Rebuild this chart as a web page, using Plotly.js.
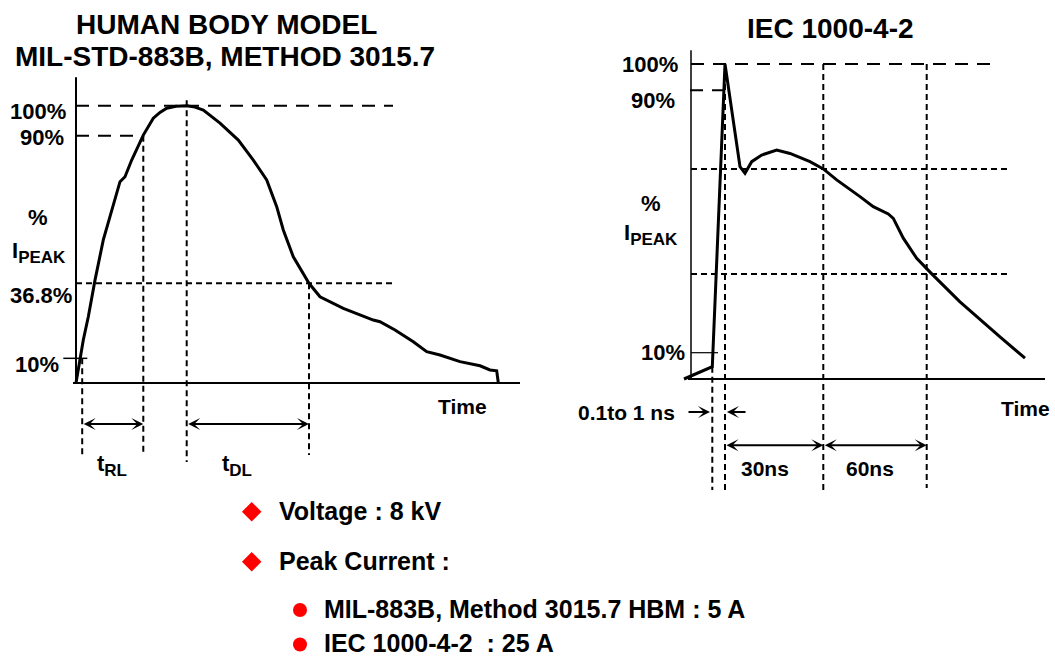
<!DOCTYPE html>
<html><head><meta charset="utf-8">
<script src="https://cdn.plot.ly/plotly-3.0.1.min.js"></script>
<style>html,body{margin:0;padding:0;background:#fff;}#chart{width:1055px;height:658px;}</style>
</head><body><div id="chart"></div>
<script>
// ================= DATA =================
// Left: Human Body Model waveform (time in arbitrary units, current in % of peak)
const hbmTime    = [0, 7.3, 12.3, 19, 27.3, 34, 39, 44, 49, 55.7, 67.3, 77.3, 84, 90.7, 100, 110.7, 119, 127.3, 144, 162.3, 177.3, 190.7, 200.7, 207.3, 217.3, 233, 244, 267.3, 297.3, 304, 319, 337.3, 350.7, 364, 384, 404, 414, 420.7, 422.3];
const hbmCurrent = [0, 15.5, 23.9, 37.1, 51.6, 60, 66.6, 72.6, 74.4, 80.4, 89.4, 95.5, 97.6, 99.1, 99.8, 100, 99.5, 98.4, 93.7, 87.6, 80.4, 73.2, 63.6, 55.2, 45.5, 35.95, 31.1, 26.9, 22.7, 22.1, 19.1, 14.9, 11.3, 10.1, 7.7, 6.2, 4.7, 4.4, 0.1];
const hbmLevels     = [100, 89.2, 35.95, 8.9];            // drawn positions of the reference levels
const hbmLevelText  = ['100%', '90%', '36.8%', '10%'];
const hbmMarkTimes  = [6.2, 67.3, 110.7, 233];            // 10% point, 90% point, peak, 36.8% decay point
const hbmTimeEnd    = 444;

// Right: IEC 1000-4-2 waveform
const iecTime    = [-7, 21.3, 34, 49, 54, 60.7, 70.7, 85.7, 99, 119, 132.3, 145.7, 169, 182.3, 197.3, 202.3, 212.3, 225.7, 241, 269, 309, 334];
const iecCurrent = [0, 3.9, 100, 67.4, 65.3, 69.0, 71.1, 72.7, 71.6, 69.0, 66.7, 63.2, 57.9, 54.7, 52.4, 51.0, 44.7, 38.3, 33.3, 24.5, 13.4, 6.6];
const iecLevels     = [100, 91.7, 66.7, 33.3, 8.35];
const iecLevelText  = ['100%', '90%', '', '', '10%'];
const iecMarkTimes  = [21.3, 34, 132.3, 235.7];           // rise start, peak, 30 ns, 60 ns
const iecTimeEnd    = 354;

const titlesLeft  = ['HUMAN BODY MODEL', 'MIL-STD-883B, METHOD 3015.7'];
const titleRight  = 'IEC 1000-4-2';
const bulletTexts = ['Voltage : 8 kV', 'Peak Current :', 'MIL-883B, Method 3015.7 HBM : 5 A', 'IEC 1000-4-2\u00A0\u00A0: 25 A'];
const bulletLevel = [0, 0, 1, 1];

// ================= LAYOUT HELPERS =================
const W = 1055, H = 658;
const FONT = 'Liberation Sans, Arial, Helvetica, sans-serif';
function frame(pxL, pxR, pxT, pxB, x0px, y0px, sx, sy) {
  return {
    xd: [pxL / W, pxR / W], xr: [(pxL - x0px) / sx, (pxR - x0px) / sx],
    yd: [1 - pxB / H, 1 - pxT / H], yr: [(y0px - pxB) / sy, (y0px - pxT) / sy]
  };
}
const fL = frame(0, 545, 70, 480, 76, 383, 1, 2.773);
const fR = frame(560, 1055, 40, 500, 691, 379, 1, 3.15);
const fB = {xd: [230 / W, 330 / W], xr: [230, 330], yd: [0, 1 - 490 / H], yr: [658, 490]};

const LONG = '13px,9px', SHORT = '6px,4px';
const traces = [];
function seg(xa, ya, x0, y0, x1, y1, dash, width) {
  traces.push({type: 'scatter', mode: 'lines', xaxis: xa, yaxis: ya, x: [x0, x1], y: [y0, y1],
    line: {color: '#000', width: width, dash: dash}, hoverinfo: 'skip', showlegend: false});
}

// ---------- Left chart ----------
seg('x', 'y', 0, fL.yr[1] - 2.6, 0, 0, 'solid', 2);            // y-axis line
seg('x', 'y', -3, 0, hbmTimeEnd, 0, 'solid', 2);                 // x-axis line
traces.push({type: 'scatter', mode: 'lines', xaxis: 'x', yaxis: 'y', x: hbmTime, y: hbmCurrent,
  line: {color: '#000', width: 3}, hoverinfo: 'skip', showlegend: false});
seg('x', 'y', 0, hbmLevels[0], 317, hbmLevels[0], LONG, 2);
seg('x', 'y', 0, hbmLevels[1], hbmMarkTimes[1], hbmLevels[1], LONG, 2);
seg('x', 'y', 0, hbmLevels[2], 319, hbmLevels[2], SHORT, 2);
seg('x', 'y', -12.7, hbmLevels[3], 11.3, hbmLevels[3], 'solid', 1.5);
seg('x', 'y', hbmMarkTimes[0], hbmLevels[3], hbmMarkTimes[0], -26, SHORT, 2);
seg('x', 'y', hbmMarkTimes[1], hbmLevels[1], hbmMarkTimes[1], -26, SHORT, 2);
seg('x', 'y', hbmMarkTimes[2], 102, hbmMarkTimes[2], -28.5, SHORT, 2);
seg('x', 'y', hbmMarkTimes[3], hbmLevels[2], hbmMarkTimes[3], -26, SHORT, 2);

// ---------- Right chart ----------
seg('x2', 'y2', 0, 104.4, 0, 0, 'solid', 1.5);
seg('x2', 'y2', -3, 0, iecTimeEnd, 0, 'solid', 2);
traces.push({type: 'scatter', mode: 'lines', xaxis: 'x2', yaxis: 'y2', x: iecTime, y: iecCurrent,
  line: {color: '#000', width: 3}, hoverinfo: 'skip', showlegend: false});
seg('x2', 'y2', 0, iecLevels[0], 307, iecLevels[0], LONG, 2);
seg('x2', 'y2', -1, iecLevels[1], 41, iecLevels[1], LONG, 2);
seg('x2', 'y2', 0, iecLevels[2], 316, iecLevels[2], SHORT, 2);
seg('x2', 'y2', 0, iecLevels[3], 316, iecLevels[3], SHORT, 2);
seg('x2', 'y2', 0, iecLevels[4], 27, iecLevels[4], 'solid', 1.2);
seg('x2', 'y2', iecMarkTimes[0], iecCurrent[1], iecMarkTimes[0], -35.2, SHORT, 2);
seg('x2', 'y2', iecMarkTimes[1], 100, iecMarkTimes[1], -35.2, SHORT, 2);
seg('x2', 'y2', iecMarkTimes[2], 100, iecMarkTimes[2], -35.2, SHORT, 2);
seg('x2', 'y2', iecMarkTimes[3], 100, iecMarkTimes[3], -34.6, SHORT, 2);

// ---------- Bullet markers ----------
const bulletY = [511.7, 561.7, 610, 644.5];
traces.push({type: 'scatter', mode: 'markers', xaxis: 'x3', yaxis: 'y3',
  x: bulletLevel.map(l => l ? 300 : 251.7), y: bulletY,
  marker: {color: '#ff0000', opacity: 1, size: bulletLevel.map(l => l ? 14 : 15), symbol: bulletLevel.map(l => l ? 'circle' : 'diamond'), line: {width: 0}},
  hoverinfo: 'skip', showlegend: false});

// ================= ANNOTATIONS =================
const ann = [];
function lab(text, x, y, xr, yr, size, xanchor) {
  ann.push({text: '<b>' + text + '</b>', x: x, y: y, xref: xr, yref: yr, showarrow: false,
    xanchor: xanchor || 'center', yanchor: 'middle', font: {family: FONT, size: size, color: '#000'}});
}
function arrow(xr, yr, xTail, xHead, y, both) {
  ann.push({text: '', x: xHead, y: y, ax: xTail, ay: y, xref: xr, yref: yr, axref: xr, ayref: yr,
    showarrow: true, arrowhead: 3, arrowsize: 1, arrowwidth: 2, arrowcolor: '#000',
    arrowside: both ? 'end+start' : 'end', standoff: 0, startstandoff: 0});
}
// titles (paper)
lab(titlesLeft[0], 226 / W, 1 - 24 / H, 'paper', 'paper', 28);
lab(titlesLeft[1], 225 / W, 1 - 57 / H, 'paper', 'paper', 28);
lab(titleRight, 830 / W, 1 - 28.3 / H, 'paper', 'paper', 28);

// left labels
const sub = s => '<sub><span style="font-size:17px">' + s + '</span></sub>';
lab(hbmLevelText[0], -38.5, 97.8, 'x', 'y', 22);
lab(hbmLevelText[1], -34.3, 88.5, 'x', 'y', 22);
lab(hbmLevelText[2], -35.2, 31.4, 'x', 'y', 22);
lab(hbmLevelText[3], -39.3, 6.85, 'x', 'y', 22);
lab('%', -38, 59.7, 'x', 'y', 22);
lab('I' + sub('PEAK'), -37, 47.2, 'x', 'y', 22);
lab('Time', 386, -8.65, 'x', 'y', 21);
lab('t' + sub('RL'), 36, -29.6, 'x', 'y', 22);
lab('t' + sub('DL'), 161, -29.6, 'x', 'y', 22);
arrow('x', 'y', hbmMarkTimes[0], hbmMarkTimes[1], -14.8, true);
arrow('x', 'y', hbmMarkTimes[2], hbmMarkTimes[3], -14.8, true);

// right labels
lab(iecLevelText[0], -41.5, 99.9, 'x2', 'y2', 22);
lab(iecLevelText[1], -37.7, 88.3, 'x2', 'y2', 22);
lab(iecLevelText[4], -28, 8.4, 'x2', 'y2', 22);
lab('%', -40, 55.8, 'x2', 'y2', 22);
lab('I' + sub('PEAK'), -40, 45.8, 'x2', 'y2', 22);
lab('Time', 334, -9.5, 'x2', 'y2', 21);
lab('0.1to 1 ns', -14, -10.5, 'x2', 'y2', 21, 'right');
lab('30ns', 74, -28.3, 'x2', 'y2', 21);
lab('60ns', 179, -28.3, 'x2', 'y2', 21);
arrow('x2', 'y2', -4, 19, -10.5, false);
arrow('x2', 'y2', 56, 36, -10.5, false);
arrow('x2', 'y2', iecMarkTimes[1], iecMarkTimes[2], -21, true);
arrow('x2', 'y2', iecMarkTimes[2], iecMarkTimes[3], -21, true);

// bullets text
const bulletTextY = [510.5, 561, 609, 642.5];
bulletTexts.forEach((t, i) => lab(t, (bulletLevel[i] ? 322 : 277) / W, 1 - bulletTextY[i] / H, 'paper', 'paper', 25, 'left'));

const hidden = {visible: false, showgrid: false, zeroline: false, fixedrange: true};
const layout = {
  width: W, height: H, margin: {l: 0, r: 0, t: 0, b: 0},
  paper_bgcolor: '#fff', plot_bgcolor: 'rgba(0,0,0,0)', showlegend: false,
  xaxis:  Object.assign({}, hidden, {domain: fL.xd, range: fL.xr, anchor: 'y'}),
  yaxis:  Object.assign({}, hidden, {domain: fL.yd, range: fL.yr, anchor: 'x'}),
  xaxis2: Object.assign({}, hidden, {domain: fR.xd, range: fR.xr, anchor: 'y2'}),
  yaxis2: Object.assign({}, hidden, {domain: fR.yd, range: fR.yr, anchor: 'x2'}),
  xaxis3: Object.assign({}, hidden, {domain: fB.xd, range: fB.xr, anchor: 'y3'}),
  yaxis3: Object.assign({}, hidden, {domain: fB.yd, range: fB.yr, anchor: 'x3'}),
  annotations: ann
};
Plotly.newPlot('chart', traces, layout, {displayModeBar: false, staticPlot: true});
</script>
</body></html>
